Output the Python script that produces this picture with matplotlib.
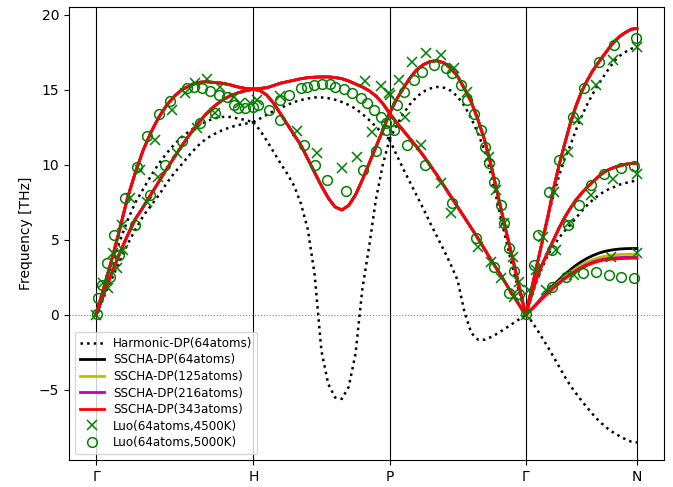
import numpy as np
import matplotlib
matplotlib.use('Agg')
import matplotlib.pyplot as plt

# high-symmetry path (bcc): distances along k-path
labels = ['Γ', 'H', 'P', 'Γ', 'N']
nodes = [0.0, 1.0, 1.866, 2.732, 3.439]
frac = np.linspace(0, 1, 21)   # sampling inside each segment

# ---- harmonic DP (64 atoms), THz ----
harm_GH = [
    [0, 1.6, 3.3, 4.9, 6.3, 7.5, 8.4, 9.3, 10.1, 10.8, 11.4, 11.9, 12.3, 12.65, 12.9, 13.1, 13.2, 13.2, 13.1, 13.0, 12.85],
    [0, 1.2, 2.4, 3.6, 4.7, 5.7, 6.6, 7.3, 8.0, 8.8, 9.5, 10.1, 10.75, 11.3, 11.75, 12.05, 12.3, 12.5, 12.65, 12.75, 12.85],
]
harm_HP = [
    [12.85, 13.1, 13.35, 13.6, 13.8, 14.0, 14.2, 14.33, 14.43, 14.5, 14.5, 14.45, 14.35, 14.2, 14.0, 13.75, 13.4, 13.0, 12.55, 12.1, 11.7],
    [12.85, 12.3, 11.6, 10.85, 10.1, 9.4, 8.6, 7.4, 5.7, 2.7, -2.4, -4.6, -5.5, -5.6, -4.8, -2.6, 1.7, 4.55, 7.7, 10.0, 11.7],
]
harm_PG = [
    [11.7, 12.6, 13.4, 14.05, 14.55, 14.9, 15.1, 15.2, 15.15, 14.95, 14.55, 13.95, 13.1, 12.1, 10.9, 9.2, 7.2, 5.2, 3.3, 1.6, 0],
    [11.7, 10.7, 9.75, 8.85, 7.95, 7.05, 6.1, 5.2, 4.3, 3.35, 2.3, 0.2, -1.2, -1.65, -1.65, -1.45, -1.2, -0.9, -0.6, -0.3, 0],
]
harm_GN = [
    [0, 1.6, 3.3, 4.9, 6.5, 8.0, 9.3, 10.4, 11.3, 12.3, 13.2, 14.0, 14.7, 15.35, 15.9, 16.45, 16.95, 17.3, 17.55, 17.75, 17.87],
    [0, 1.2, 2.3, 3.2, 4.0, 4.6, 5.15, 5.6, 6.0, 6.45, 6.9, 7.3, 7.65, 7.95, 8.2, 8.4, 8.55, 8.7, 8.8, 8.9, 8.95],
    [0, -0.4, -0.95, -1.55, -2.15, -2.8, -3.45, -4.1, -4.7, -5.2, -5.7, -6.15, -6.6, -7.0, -7.35, -7.65, -7.9, -8.1, -8.3, -8.45, -8.5],
]

# ---- SSCHA DP (branches shared by all supercells) ----
sscha_GH = [
    [0, 1.85, 3.7, 5.7, 7.8, 9.5, 11.0, 12.2, 13.2, 14.0, 14.6, 15.05, 15.3, 15.5, 15.55, 15.5, 15.45, 15.35, 15.2, 15.1, 15.05],
    [0, 1.4, 2.8, 4.1, 5.3, 6.4, 7.2, 8.05, 8.9, 9.75, 10.55, 11.35, 12.1, 12.8, 13.4, 13.9, 14.3, 14.6, 14.8, 14.95, 15.05],
]
sscha_HP = [
    [15.05, 15.1, 15.15, 15.3, 15.45, 15.55, 15.65, 15.75, 15.82, 15.85, 15.87, 15.87, 15.83, 15.75, 15.6, 15.4, 15.2, 14.95, 14.6, 14.1, 13.45],
    [15.05, 14.95, 14.65, 14.1, 13.4, 12.7, 12.0, 11.3, 10.4, 9.5, 8.6, 7.8, 7.2, 7.0, 7.3, 8.0, 9.0, 10.1, 11.2, 12.3, 13.45],
]
sscha_PG = [
    [13.45, 14.35, 15.1, 15.8, 16.35, 16.7, 16.9, 16.95, 16.8, 16.45, 15.9, 15.1, 14.2, 13.0, 11.6, 9.8, 7.8, 5.8, 3.9, 1.95, 0],
    [13.45, 12.85, 12.3, 11.75, 11.2, 10.6, 9.95, 9.3, 8.6, 7.9, 7.2, 6.5, 5.8, 5.1, 4.35, 3.6, 2.9, 2.15, 1.4, 0.7, 0],
]
sscha_GN = [
    [0, 1.65, 3.3, 4.95, 6.6, 8.4, 10.0, 11.4, 12.75, 13.9, 14.85, 15.6, 16.25, 16.8, 17.3, 17.8, 18.25, 18.6, 18.85, 19.05, 19.1],
    [0, 1.3, 2.5, 3.4, 4.2, 5.0, 5.8, 6.5, 7.1, 7.65, 8.1, 8.5, 8.85, 9.2, 9.5, 9.7, 9.85, 9.95, 10.05, 10.1, 10.1],
]
# lowest Gamma-N branch differs with supercell size
low_GN_64 = [0, 0.38, 0.78, 1.2, 1.6, 2.0, 2.35, 2.7, 3.0, 3.3, 3.55, 3.77, 3.95, 4.1, 4.22, 4.3, 4.36, 4.4, 4.42, 4.43, 4.43]
low_GN_125 = [0, 0.37, 0.75, 1.15, 1.52, 1.9, 2.22, 2.55, 2.82, 3.1, 3.32, 3.52, 3.68, 3.8, 3.9, 3.96, 4.0, 4.03, 4.05, 4.05, 4.05]
low_GN_216 = [0, 0.36, 0.73, 1.12, 1.48, 1.84, 2.15, 2.46, 2.72, 2.97, 3.18, 3.37, 3.52, 3.64, 3.72, 3.78, 3.81, 3.83, 3.85, 3.85, 3.85]
low_GN_343 = [0, 0.35, 0.72, 1.1, 1.45, 1.8, 2.1, 2.4, 2.65, 2.9, 3.1, 3.3, 3.45, 3.57, 3.65, 3.7, 3.73, 3.75, 3.77, 3.78, 3.78]

# ---- Luo et al. (64 atoms) ----
luo4500_k = [0.0, 0.047, 0.078, 0.11, 0.132, 0.164, 0.174, 0.217, 0.28, 0.323, 0.376, 0.397, 0.482, 0.514,
             0.567, 0.631, 0.641, 0.705, 0.758, 0.79, 0.875, 0.917, 0.98,
             1.023, 1.172, 1.278, 1.406, 1.565, 1.66, 1.713, 1.756, 1.809, 1.862,
             1.87, 1.925, 1.966, 2.01, 2.064, 2.096, 2.19, 2.19, 2.255, 2.276, 2.36, 2.43, 2.497, 2.51,
             2.541, 2.573, 2.594, 2.648, 2.658, 2.69, 2.732,
             2.753, 2.796, 2.839, 2.86, 2.913, 2.924, 2.998, 3.009, 3.04, 3.062, 3.146, 3.179, 3.274,
             3.285, 3.285, 3.439, 3.439, 3.439]
luo4500_f = [0.0, 2.11, 1.78, 4.11, 3.11, 6.0, 4.33, 7.78, 9.67, 7.55, 11.67, 9.22, 13.67, 10.78,
             14.78, 15.44, 12.44, 15.71, 13.44, 15.22, 14.56, 14.11, 14.11,
             14.33, 14.6, 12.29, 10.78, 9.78, 10.56, 15.6, 12.22, 15.27, 14.78,
             14.67, 15.67, 13.22, 16.89, 11.33, 17.44, 17.33, 8.78, 6.78, 16.44, 14.89, 4.5, 10.56, 3.5,
             8.3, 2.44, 6.1, 3.89, 1.22, 2.22, 0.0,
             1.67, 3.0, 5.22, 1.67, 8.22, 4.33, 10.89, 6.11, 2.67, 13.0, 8.0, 15.33, 3.85,
             17.0, 9.04, 17.89, 9.4, 4.11]

luo5000_k = [0.004, 0.015, 0.036, 0.072, 0.089, 0.117, 0.148, 0.185, 0.248, 0.259, 0.323, 0.344, 0.403, 0.44,
             0.471, 0.546, 0.577, 0.62, 0.662, 0.673, 0.726, 0.758, 0.779, 0.832, 0.875, 0.9, 0.95, 1.0,
             1.03, 1.097, 1.172, 1.172, 1.225, 1.3, 1.32, 1.342, 1.384, 1.395, 1.438, 1.469, 1.49, 1.522,
             1.575, 1.586, 1.629, 1.682, 1.696, 1.724, 1.766, 1.777, 1.809, 1.841, 1.841, 1.862,
             1.893, 1.915, 1.958, 1.976, 2.022, 2.075, 2.092, 2.149, 2.223, 2.265, 2.265, 2.318, 2.36,
             2.403, 2.414, 2.445, 2.475, 2.497, 2.529, 2.529, 2.573, 2.594, 2.626, 2.626, 2.658, 2.69, 2.732,
             2.785, 2.807, 2.881, 2.9, 2.9, 2.945, 2.987, 2.998, 3.03, 3.071, 3.094, 3.104, 3.146, 3.179,
             3.2, 3.232, 3.264, 3.296, 3.338, 3.338, 3.42, 3.423, 3.435]
luo5000_f = [0.04, 1.1, 2.0, 3.45, 2.55, 5.33, 4.0, 7.78, 6.0, 9.89, 11.9, 8.0, 13.42, 10.0,
             14.25, 11.58, 15.15, 15.18, 12.78, 15.11, 14.96, 13.44, 14.66, 14.56, 14.0, 13.78, 13.78, 13.86,
             14.0, 13.67, 14.33, 13.0, 14.67, 15.11, 11.3, 15.22, 15.33, 10.0, 15.4, 9.02, 15.4, 15.22,
             15.04, 8.28, 14.78, 14.44, 9.67, 14.11, 13.67, 10.96, 13.22, 12.78, 12.33, 12.89,
             12.33, 14.0, 14.85, 11.33, 15.67, 16.22, 10.0, 16.63, 16.44, 7.44, 16.11, 15.33, 14.33,
             13.4, 5.11, 12.33, 11.2, 10.1, 8.89, 3.22, 7.33, 6.11, 4.44, 1.44, 2.92, 1.38, 0.05,
             3.33, 5.33, 8.22, 4.33, 1.89, 10.33, 2.56, 6.0, 13.22, 7.33, 2.82, 15.11, 8.67, 2.89,
             16.89, 9.4, 2.67, 18.0, 9.78, 2.56, 9.95, 2.44, 18.45]

harm = [harm_GH, harm_HP, harm_PG, harm_GN]
sscha = [sscha_GH, sscha_HP, sscha_PG, sscha_GN]
variants = [('k', 'SSCHA-DP(64atoms)', low_GN_64),
            ('y', 'SSCHA-DP(125atoms)', low_GN_125),
            ('m', 'SSCHA-DP(216atoms)', low_GN_216),
            ('r', 'SSCHA-DP(343atoms)', low_GN_343)]

fig = plt.figure(figsize=(6.73, 4.87), dpi=100)
ax = fig.add_subplot(111)
fig.subplots_adjust(left=69/673, right=664/673, top=1-7.3/487, bottom=1-460/487)

for xv in nodes:
    ax.axvline(xv, color='k', lw=0.8)
ax.axhline(0, color='gray', ls=':', lw=0.8)

# harmonic
first = True
for i, seg in enumerate(harm):
    k = nodes[i] + frac * (nodes[i + 1] - nodes[i])
    for br in seg:
        ax.plot(k, br, 'k:', lw=1.8, label='Harmonic-DP(64atoms)' if first else None)
        first = False

# sscha, one colour per supercell
for col, name, low in variants:
    first = True
    for i, seg in enumerate(sscha):
        k = nodes[i] + frac * (nodes[i + 1] - nodes[i])
        branches = seg + [low] if i == 3 else seg
        for br in branches:
            ax.plot(k, br, color=col, lw=2, label=name if first else None)
            first = False

ax.plot(luo4500_k, luo4500_f, 'x', color='g', ms=7, mew=1.1, label='Luo(64atoms,4500K)')
ax.plot(luo5000_k, luo5000_f, 'o', color='g', mfc='none', ms=7, mew=1.1, label='Luo(64atoms,5000K)')

ax.set_xlim(-0.172, 3.611)
ax.set_ylim(-9.67, 20.51)
ax.set_xticks(nodes)
ax.set_xticklabels(labels)
ax.set_ylabel('Frequency [THz]')
ax.legend(loc='lower left', fontsize=8.6, handlelength=2.0, labelspacing=0.3)

fig.savefig('out.png', dpi=100)
